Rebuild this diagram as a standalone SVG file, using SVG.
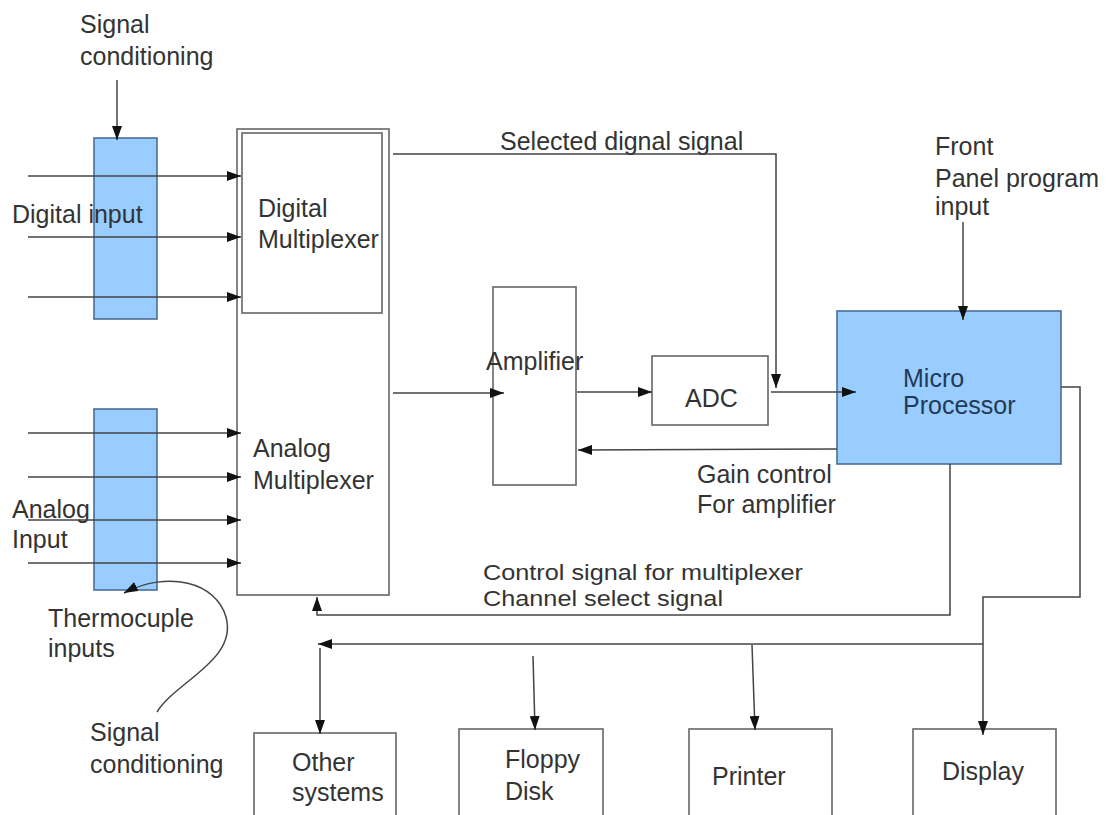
<svg xmlns="http://www.w3.org/2000/svg" width="1107" height="815" viewBox="0 0 1107 815">
<style>
.t{font-family:"Liberation Sans",Arial,sans-serif;font-size:25px;fill:#333}
.box{fill:#fff;stroke:#666;stroke-width:1.6}
.blue{fill:#99ccff;stroke:#4a6f96;stroke-width:1.6}
.ln{fill:none;stroke:#444;stroke-width:1.5}
</style>
<defs>
<marker id="ah" viewBox="0 0 14 10" refX="14" refY="5" markerWidth="14" markerHeight="10" markerUnits="userSpaceOnUse" orient="auto">
<path d="M0,0 L14,5 L0,10 z" fill="#111"/>
</marker>
</defs>
<rect width="1107" height="815" fill="#fff"/>

<g id="digital-cond"><rect class="blue" x="94" y="138" width="63" height="181"/></g>
<g id="analog-cond"><rect class="blue" x="94" y="409" width="63" height="181"/></g>

<g id="mux">
<rect class="box" x="237" y="129" width="152" height="466"/>
<rect class="box" x="242" y="133" width="140" height="180"/>
<text class="t" x="258" y="217">Digital</text>
<text class="t" x="258" y="248">Multiplexer</text>
<text class="t" x="253" y="457">Analog</text>
<text class="t" x="253" y="489">Multiplexer</text>
</g>

<g id="amplifier"><rect class="box" x="493" y="287" width="83" height="198"/><text class="t" x="486" y="370">Amplifier</text></g>
<g id="adc"><rect class="box" x="652" y="356" width="116" height="69"/><text class="t" x="685" y="407">ADC</text></g>
<g id="micro"><rect class="blue" x="837" y="311" width="224" height="153"/><text class="t" x="903" y="387" style="fill:#223a55">Micro</text><text class="t" x="903" y="414" style="fill:#223a55">Processor</text></g>

<g id="other"><rect class="box" x="254" y="733" width="142" height="90"/><text class="t" x="292" y="771">Other</text><text class="t" x="292" y="801">systems</text></g>
<g id="floppy"><rect class="box" x="459" y="729" width="144" height="94"/><text class="t" x="505" y="768">Floppy</text><text class="t" x="505" y="800">Disk</text></g>
<g id="printer"><rect class="box" x="689" y="729" width="143" height="94"/><text class="t" x="712" y="785">Printer</text></g>
<g id="display"><rect class="box" x="913" y="729" width="143" height="94"/><text class="t" x="942" y="780">Display</text></g>

<g id="labels">
<text class="t" x="80" y="33">Signal</text>
<text class="t" x="80" y="65">conditioning</text>
<text class="t" x="12" y="223">Digital input</text>
<text class="t" x="12" y="518">Analog</text>
<text class="t" x="12" y="548">Input</text>
<text class="t" x="48" y="627">Thermocuple</text>
<text class="t" x="48" y="657">inputs</text>
<text class="t" x="90" y="741">Signal</text>
<text class="t" x="90" y="773">conditioning</text>
<text class="t" x="500" y="150">Selected dignal signal</text>
<text class="t" x="935" y="155">Front</text>
<text class="t" x="935" y="187">Panel program</text>
<text class="t" x="935" y="215">input</text>
<text class="t" x="697" y="483">Gain control</text>
<text class="t" x="697" y="513">For amplifier</text>
<text class="t" x="483" y="580" style="font-size:22px" textLength="320" lengthAdjust="spacingAndGlyphs">Control signal for multiplexer</text>
<text class="t" x="483" y="606" style="font-size:22px" textLength="240" lengthAdjust="spacingAndGlyphs">Channel select signal</text>
</g>

<g id="connectors">
<line class="ln" x1="117" y1="80" x2="117" y2="140" marker-end="url(#ah)"/>
<line class="ln" x1="28" y1="176" x2="241" y2="176" marker-end="url(#ah)"/>
<line class="ln" x1="28" y1="237" x2="241" y2="237" marker-end="url(#ah)"/>
<line class="ln" x1="28" y1="297" x2="241" y2="297" marker-end="url(#ah)"/>
<line class="ln" x1="28" y1="433" x2="241" y2="433" marker-end="url(#ah)"/>
<line class="ln" x1="28" y1="477" x2="241" y2="477" marker-end="url(#ah)"/>
<line class="ln" x1="28" y1="520" x2="241" y2="520" marker-end="url(#ah)"/>
<line class="ln" x1="28" y1="563" x2="241" y2="563" marker-end="url(#ah)"/>
<path class="ln" d="M157,712 C175,682 238,660 226,617 C216,582 168,570 124,593" marker-end="url(#ah)"/>
<path class="ln" d="M393,154 L776,154 L776,388" marker-end="url(#ah)"/>
<line class="ln" x1="393" y1="393" x2="504" y2="393" marker-end="url(#ah)"/>
<line class="ln" x1="577" y1="392" x2="652" y2="392" marker-end="url(#ah)"/>
<line class="ln" x1="771" y1="392" x2="856" y2="392" marker-end="url(#ah)"/>
<line class="ln" x1="837" y1="449" x2="578" y2="450" marker-end="url(#ah)"/>
<line class="ln" x1="963" y1="222" x2="963" y2="320" marker-end="url(#ah)"/>
<path class="ln" d="M950,464 L950,615 L317,615 L317,597" marker-end="url(#ah)"/>
<path class="ln" d="M1061,387 L1080,387 L1080,597 L983,597 L983,735" marker-end="url(#ah)"/>
<line class="ln" x1="983" y1="644" x2="318" y2="644" marker-end="url(#ah)"/>
<line class="ln" x1="320" y1="648" x2="320" y2="734" marker-end="url(#ah)"/>
<line class="ln" x1="533" y1="656" x2="535" y2="730" marker-end="url(#ah)"/>
<line class="ln" x1="752" y1="645" x2="755" y2="730" marker-end="url(#ah)"/>
</g>
</svg>
